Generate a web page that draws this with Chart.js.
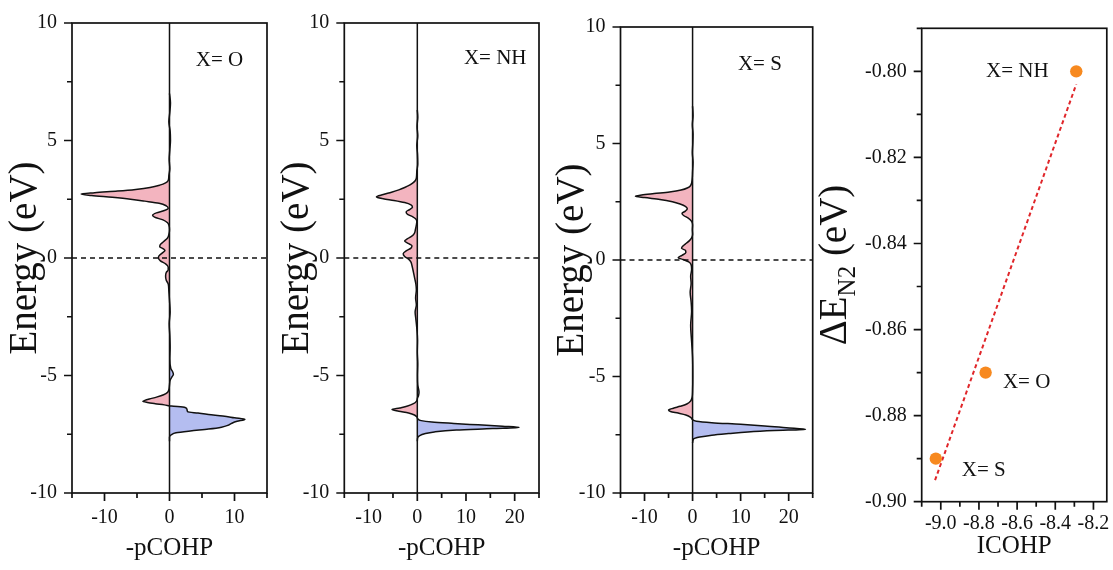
<!DOCTYPE html>
<html>
<head>
<meta charset="utf-8">
<script src="https://cdn.jsdelivr.net/npm/chart.js@4.4.1/dist/chart.umd.min.js"></script>
<style>
  body { margin: 0; background: #fff; }
  #wrap { position: relative; width: 1113px; height: 570px; }
  canvas { position: absolute; top: 0; }
</style>
</head>
<body>
<div id="wrap">
  <canvas id="cO" width="280" height="570" style="left:0"></canvas>
  <canvas id="cNH" width="275" height="570" style="left:280px"></canvas>
  <canvas id="cS" width="270" height="570" style="left:555px"></canvas>
  <canvas id="cFit" width="301" height="570" style="left:812px"></canvas>
</div>
<script>
// -pCOHP curves, energy in eV from the top of the window down
const energyO = [7.0, 6.6, 6.2, 5.8, 5.4, 5.0, 4.6, 4.2, 3.8, 3.5, 3.3, 3.2, 3.1, 3.0, 2.92, 2.85, 2.78, 2.72, 2.66, 2.58,
  2.5, 2.42, 2.33, 2.22, 2.12, 2.02, 1.92, 1.82, 1.74, 1.62, 1.5, 1.4, 1.2, 1.0, 0.85, 0.7, 0.58, 0.48, 0.4, 0.32,
  0.22, 0.1, 0.0, -0.12, -0.25, -0.38, -0.5, -0.62, -0.78, -0.95, -1.1, -1.4, -1.8, -2.3, -2.8, -3.3, -3.8, -4.3, -4.7, -4.85,
  -4.95, -5.05, -5.2, -5.4, -5.6, -5.72, -5.82, -5.92, -6.0, -6.06, -6.1, -6.15, -6.2, -6.25, -6.3, -6.36, -6.45, -6.54, -6.6, -6.66,
  -6.72, -6.8, -6.87, -6.95, -7.03, -7.12, -7.2, -7.28, -7.36, -7.44, -7.52, -7.62, -7.8];
const cohpO = [0, 0.15, 0.05, -0.1, 0.1, 0.15, 0.05, -0.05, 0.05, -0.1, -0.2, -0.6, -1.5, -3.0, -5.2, -8.0, -11.5, -13.6, -12.0, -8.8,
  -6.0, -3.8, -1.6, -0.5, -0.2, -0.8, -2.0, -2.6, -2.3, -1.0, -0.3, -0.1, 0, -0.1, -0.3, -0.9, -1.4, -1.5, -1.0, -0.7,
  -1.1, -1.6, -1.7, -1.4, -0.6, -0.2, -0.2, -0.5, -0.6, -0.5, -0.2, -0.1, 0, 0.1, -0.05, 0.05, 0.1, 0.05, 0.2, 0.5,
  0.6, 0.4, 0.1, 0, -0.1, -0.3, -0.9, -2.0, -3.1, -3.8, -4.1, -3.4, -2.2, -0.8, 0.3, 2.4, 2.7, 2.8, 4.4, 6.0,
  8.2, 10.0, 11.6, 10.4, 9.6, 9.0, 8.0, 6.0, 3.2, 1.0, 0.3, 0, 0];

const energyNH = [6.3, 6.0, 5.6, 5.2, 4.8, 4.4, 4.0, 3.7, 3.4, 3.3, 3.2, 3.1, 3.0, 2.9, 2.8, 2.7, 2.6, 2.52, 2.45, 2.36,
  2.26, 2.16, 2.06, 1.96, 1.86, 1.76, 1.66, 1.55, 1.4, 1.2, 1.05, 0.92, 0.82, 0.72, 0.62, 0.52, 0.42, 0.3, 0.18, 0.06,
  -0.05, -0.18, -0.32, -0.5, -0.7, -0.9, -1.1, -1.35, -1.7, -2.0, -2.3, -2.6, -3.0, -3.5, -4.0, -4.5, -5.0, -5.4, -5.7, -5.85,
  -5.95, -6.1, -6.2, -6.3, -6.38, -6.45, -6.52, -6.6, -6.68, -6.76, -6.84, -6.92, -6.98, -7.04, -7.1, -7.16, -7.21, -7.26, -7.32, -7.4,
  -7.48, -7.56, -7.64, -7.8];
const cohpNH = [0, 0.1, -0.05, 0.1, -0.1, 0.05, 0.1, -0.1, -0.2, -0.4, -0.9, -1.6, -2.6, -3.8, -5.3, -7.0, -8.4, -7.0, -4.8, -2.6,
  -1.3, -1.0, -1.6, -2.3, -2.0, -1.0, -0.3, -0.1, -0.2, -0.4, -0.6, -1.2, -2.0, -2.6, -1.9, -1.1, -1.3, -2.3, -2.9, -2.6,
  -1.8, -1.3, -1.1, -0.9, -0.7, -0.5, -0.3, -0.2, -0.35, -0.2, -0.45, -0.3, -0.1, 0.05, 0, 0.1, 0.05, 0.1, 0.35, 0.25,
  0.05, -0.2, -0.8, -2.0, -3.6, -5.2, -3.8, -1.8, -0.6, -0.1, 0.1, 0.8, 3.0, 7.5, 12.5, 17.5, 20.9, 15.5, 8.0, 3.5,
  1.5, 0.5, 0.1, 0];

const energyS = [6.6, 6.2, 5.8, 5.4, 5.0, 4.6, 4.2, 3.8, 3.45, 3.2, 3.1, 3.0, 2.92, 2.85, 2.79, 2.74, 2.68, 2.6, 2.5, 2.4,
  2.3, 2.2, 2.1, 2.0, 1.9, 1.8, 1.66, 1.5, 1.3, 1.1, 0.95, 0.82, 0.72, 0.6, 0.5, 0.42, 0.32, 0.2, 0.1, 0.02,
  -0.08, -0.2, -0.4, -0.7, -1.0, -1.4, -1.8, -2.2, -2.8, -3.5, -4.2, -5.0, -5.6, -5.9, -6.05, -6.18, -6.28, -6.36, -6.44, -6.5,
  -6.57, -6.65, -6.75, -6.85, -6.92, -6.98, -7.05, -7.12, -7.2, -7.27, -7.32, -7.38, -7.45, -7.52, -7.6, -7.68, -7.85];
const cohpS = [0, 0.1, -0.05, 0.1, 0.05, -0.05, 0.1, 0, -0.1, -0.4, -1.0, -2.4, -4.8, -8.0, -10.6, -11.9, -10.0, -6.8, -4.2, -2.6,
  -1.5, -1.1, -1.5, -2.2, -1.8, -0.9, -0.2, 0, -0.05, 0, -0.2, -0.7, -1.3, -2.0, -2.3, -1.5, -1.4, -2.2, -3.0, -2.0,
  -0.8, -0.3, -0.2, -0.4, -0.3, -0.5, -0.3, -0.2, -0.4, -0.2, 0, 0.05, 0, -0.1, -0.4, -1.2, -2.6, -4.0, -5.0, -4.6,
  -3.0, -1.4, -0.4, 0, 0.8, 4.0, 10.0, 15.0, 19.5, 23.5, 17.0, 11.5, 7.5, 4.0, 1.5, 0.2, 0];

// N2 adsorption energy against ICOHP
const sites = ["X= O", "X= NH", "X= S"];
const icohp = [-8.765, -8.29, -9.026];
const dEN2 = [-0.87, -0.80, -0.89];
const fitX = [-9.03, -8.29];
const fitY = [-0.895, -0.803];

// tick positions (labelled ones are the majors)
const energyTicks = [-10, -7.5, -5, -2.5, 0, 2.5, 5, 7.5, 10];
const cohpTicksO = [-15, -10, -5, 0, 5, 10, 15];
const cohpTicks = [-15, -10, -5, 0, 5, 10, 15, 20, 25];
const icohpTicks = [-9.1, -9.0, -8.9, -8.8, -8.7, -8.6, -8.5, -8.4, -8.3, -8.2];
const dETicks = [-0.90, -0.89, -0.88, -0.87, -0.86, -0.85, -0.84, -0.83, -0.82, -0.81, -0.80, -0.79];

Chart.defaults.font.family = "'Liberation Serif', 'Times New Roman', serif";
Chart.defaults.color = "#111";
Chart.defaults.animation = false;

const H = 570;
const PINK = "#f3b4bf";
const BLUE = "#b4bdf0";
const SERIF = "'Liberation Serif', 'Times New Roman', serif";
const TICK_SIZE = 20;
const XTITLE_SIZE = 25;
const YTITLE_SIZE = 39;

// pink on the antibonding (negative) side, blue on the bonding side
function splitFill(c) {
  const chart = c.chart, a = chart.chartArea;
  if (!a) return PINK;
  const x0 = chart.scales.x.getPixelForValue(0);
  const t = Math.min(Math.max((x0 - a.left) / (a.right - a.left), 0), 1);
  const g = chart.ctx.createLinearGradient(a.left, 0, a.right, 0);
  g.addColorStop(0, PINK);
  g.addColorStop(t, PINK);
  g.addColorStop(t, BLUE);
  g.addColorStop(1, BLUE);
  return g;
}

function axis(ticks, min, max, isMajor, fmt, fit, pad, title) {
  return {
    type: "linear",
    min: min,
    max: max,
    afterBuildTicks: s => { s.ticks = ticks.map(v => ({value: v})); },
    afterFit: fit,
    grid: {drawOnChartArea: false, drawTicks: true, tickLength: 8, color: "rgba(0,0,0,0)"},
    border: {display: false},
    ticks: {font: {size: TICK_SIZE}, padding: pad, autoSkip: false, maxRotation: 0,
      callback: v => isMajor(v) ? fmt(v) : ""},
    title: title || {display: false}
  };
}

// box frame plus outward ticks, long on labelled values
const frame = {
  id: "frame",
  afterDraw(chart) {
    const ctx = chart.ctx, a = chart.chartArea;
    const xs = chart.scales.x, ys = chart.scales.y;
    ctx.save();
    ctx.strokeStyle = "#111";
    ctx.lineWidth = 1.7;
    ctx.strokeRect(a.left, a.top, a.right - a.left, a.bottom - a.top);
    ctx.beginPath();
    xs.ticks.forEach(t => {
      const px = xs.getPixelForValue(t.value);
      ctx.moveTo(px, a.bottom);
      ctx.lineTo(px, a.bottom + (t.label ? 8 : 5));
    });
    ys.ticks.forEach(t => {
      const py = ys.getPixelForValue(t.value);
      ctx.moveTo(a.left, py);
      ctx.lineTo(a.left - (t.label ? 8 : 5), py);
    });
    ctx.stroke();
    ctx.restore();
  }
};

// text placed at data coordinates, with an optional pixel shift
const notes = {
  id: "notes",
  afterDatasetsDraw(chart, args, opts) {
    const ctx = chart.ctx;
    ctx.save();
    ctx.fillStyle = "#111";
    ctx.font = "21px " + SERIF;
    ctx.textAlign = "center";
    ctx.textBaseline = "middle";
    (opts.items || []).forEach(n => {
      const px = chart.scales.x.getPixelForValue(n.x) + (n.dx || 0);
      const py = chart.scales.y.getPixelForValue(n.y) + (n.dy || 0);
      ctx.fillText(n.text, px, py);
    });
    ctx.restore();
  }
};

function cohpPanel(id, energy, cohp, xTicks, box, titlePad, note) {
  const w = document.getElementById(id).width;
  const xMin = xTicks[0], xMax = xTicks[xTicks.length - 1];
  return new Chart(document.getElementById(id), {
    type: "line",
    data: {
      datasets: [
        {data: [{x: 0, y: -10}, {x: 0, y: 10}], indexAxis: "y", borderColor: "#111", borderWidth: 1.5,
          pointRadius: 0, order: 0},
        {data: [{x: xMin, y: 0}, {x: xMax, y: 0}], borderColor: "#111", borderWidth: 1.6, borderDash: [5, 4],
          pointRadius: 0, order: 1},
        {data: energy.map((e, i) => ({x: cohp[i], y: e})), indexAxis: "y", borderColor: "#111", borderWidth: 1.5,
          pointRadius: 0, cubicInterpolationMode: "monotone", fill: "origin", backgroundColor: splitFill, order: 2}
      ]
    },
    options: {
      responsive: false,
      layout: {padding: {top: box.top, right: w - box.right, bottom: 0, left: 0}},
      plugins: {legend: {display: false}, tooltip: {enabled: false}, notes: {items: [note]}},
      scales: {
        x: axis(xTicks, xMin, xMax, v => v % 10 === 0, v => String(v), s => { s.height = H - box.bottom; }, 5,
          {display: true, text: "-pCOHP", font: {size: XTITLE_SIZE}, color: "#111", padding: {top: 0, bottom: 7}}),
        y: axis(energyTicks, -10, 10, v => v % 5 === 0, v => String(v), s => { s.width = box.left; }, 7,
          {display: true, text: "Energy (eV)", font: {size: YTITLE_SIZE}, color: "#111", padding: {top: titlePad, bottom: 0}})
      }
    },
    plugins: [frame, notes]
  });
}

cohpPanel("cO", energyO, cohpO, cohpTicksO, {left: 72, right: 267, top: 23, bottom: 493}, 2,
  {text: "X= O", x: 7.7, y: 8.4});
cohpPanel("cNH", energyNH, cohpNH, cohpTicks, {left: 64.3, right: 259, top: 23, bottom: 493}, -6,
  {text: "X= NH", x: 16, y: 8.5});
cohpPanel("cS", energyS, cohpS, cohpTicks, {left: 65.5, right: 257.7, top: 27, bottom: 493}, -6,
  {text: "X= S", x: 14, y: 8.4});

// rotated ΔE_N2 (eV) with a real subscript
const dETitle = {
  id: "dETitle",
  afterDraw(chart) {
    const ctx = chart.ctx, a = chart.chartArea;
    const parts = [["ΔE", YTITLE_SIZE, 0], ["N2", 25, 9], [" (eV)", YTITLE_SIZE, 0]];
    ctx.save();
    ctx.translate(22, (a.top + a.bottom) / 2);
    ctx.rotate(-Math.PI / 2);
    ctx.fillStyle = "#111";
    ctx.textBaseline = "alphabetic";
    let w = 0;
    parts.forEach(p => { ctx.font = p[1] + "px " + SERIF; w += ctx.measureText(p[0]).width; });
    let x = -w / 2;
    parts.forEach(p => {
      ctx.font = p[1] + "px " + SERIF;
      ctx.fillText(p[0], x, 12 + p[2]);
      x += ctx.measureText(p[0]).width;
    });
    ctx.restore();
  }
};

const fitW = 301;
const fitBox = {left: 109.7, right: 296, top: 28.3, bottom: 501.7};
const labelShift = [[41, 10], [-59, 0], [48, 12]];

new Chart(document.getElementById("cFit"), {
  type: "scatter",
  data: {
    datasets: [
      {data: icohp.map((v, i) => ({x: v, y: dEN2[i]})), backgroundColor: "#f7891f", borderWidth: 0,
        pointRadius: 6.2, order: 0},
      {data: fitX.map((v, i) => ({x: v, y: fitY[i]})), showLine: true, borderColor: "#e0262a", borderWidth: 2,
        borderDash: [4, 3], pointRadius: 0, order: 1}
    ]
  },
  options: {
    responsive: false,
    layout: {padding: {top: fitBox.top, right: fitW - fitBox.right, bottom: 0, left: 0}},
    plugins: {
      legend: {display: false},
      tooltip: {enabled: false},
      notes: {items: sites.map((s, i) => ({text: s, x: icohp[i], y: dEN2[i], dx: labelShift[i][0], dy: labelShift[i][1]}))}
    },
    scales: {
      x: axis(icohpTicks, -9.1, -8.13, v => Math.round(v * 10) % 2 === 0, v => v.toFixed(1),
        s => { s.height = H - fitBox.bottom; }, 2.5,
        {display: true, text: "ICOHP", font: {size: XTITLE_SIZE}, color: "#111", padding: {top: 0, bottom: 9}}),
      y: axis(dETicks, -0.90, -0.79, v => Math.round(v * 100) % 2 === 0, v => v.toFixed(2),
        s => { s.width = fitBox.left; }, 7)
    }
  },
  plugins: [frame, notes, dETitle]
});
</script>
</body>
</html>
